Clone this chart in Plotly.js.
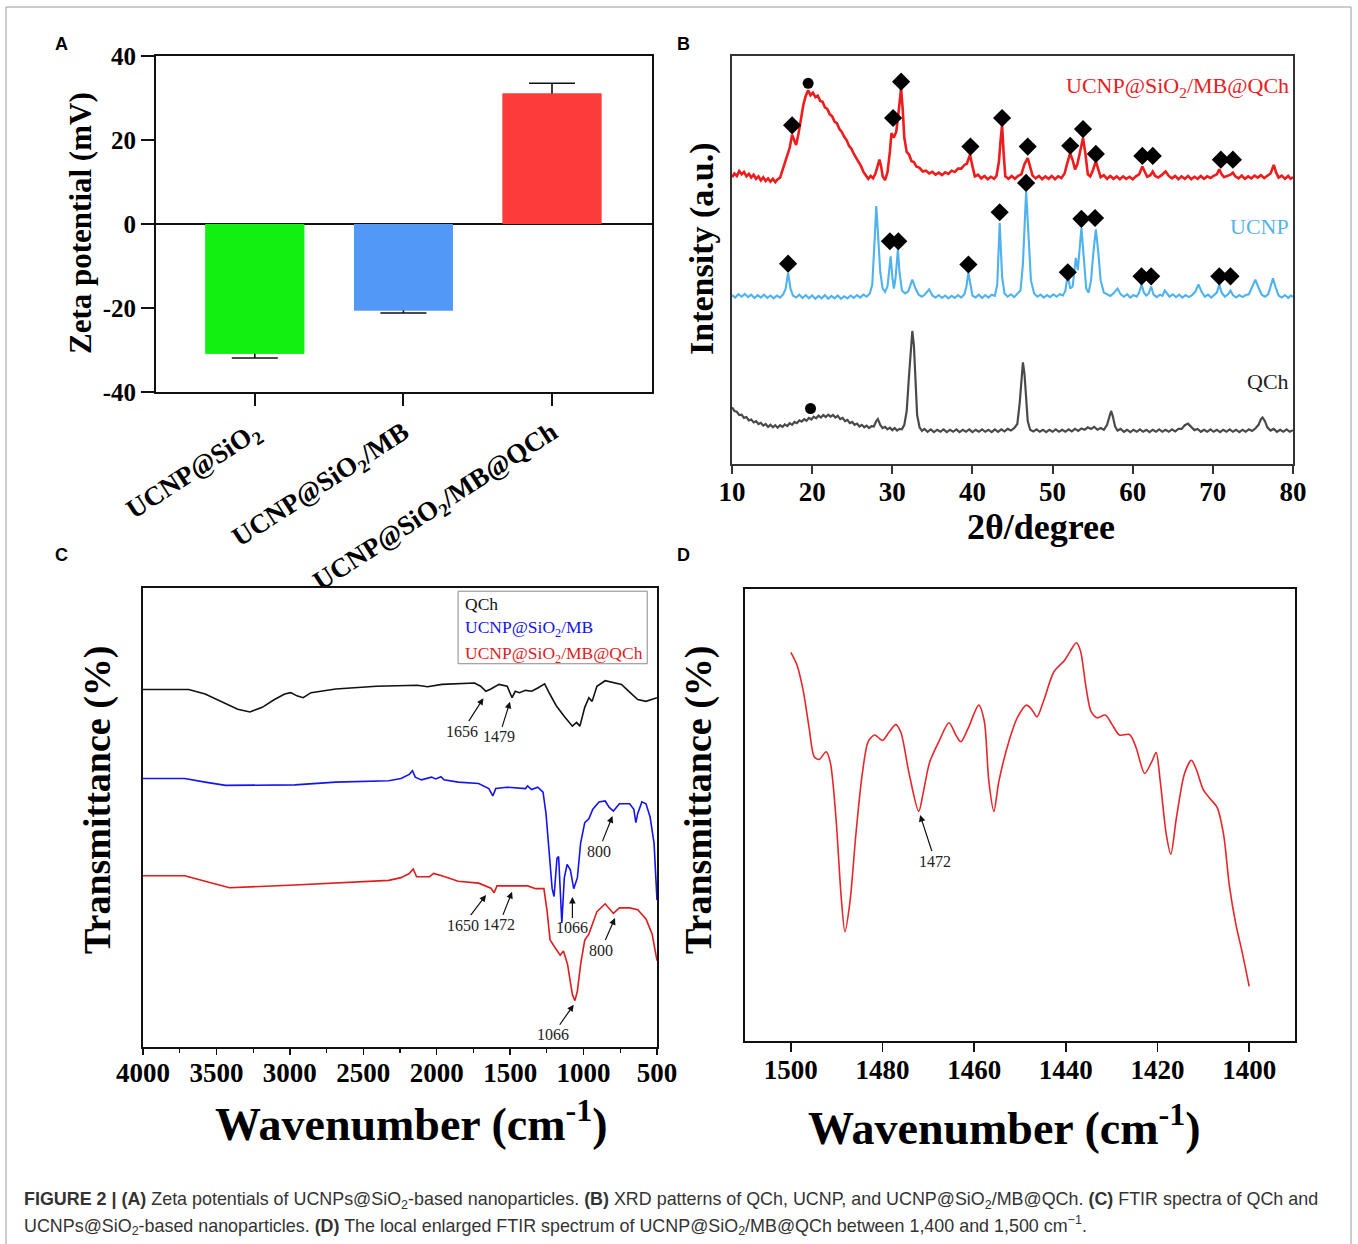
<!DOCTYPE html>
<html><head><meta charset="utf-8">
<script src="https://cdn.plot.ly/plotly-3.0.1.min.js"></script>
<style>html,body{margin:0;padding:0;background:#fff;} #chart{width:1358px;height:1244px;}</style>
</head><body><div id="chart"></div>
<script>
// ---------------- DATA ----------------
// (A) Zeta potential
const zetaCategories = ['UCNP@SiO<sub>2</sub>', 'UCNP@SiO<sub>2</sub>/MB', 'UCNP@SiO<sub>2</sub>/MB@QCh'];
const zetaValues = [-30.9, -20.6, 31.1];
const zetaErrors = [1.0, 0.6, 2.4];
const zetaTickVals = [-40, -20, 0, 20, 40];
const zetaTickText = ['-40', '-20', '0', '20', '40'];

// (B) XRD patterns [2theta, intensity a.u.]
const xrdComposite = [[10.0,70.3],[10.3,71.2],[10.6,70.6],[10.9,71.8],[11.2,71.0],[11.5,71.6],[11.8,70.5],[12.1,71.1],[12.4,70.2],[12.7,70.9],[13.0,69.9],[13.3,70.5],[13.6,69.5],[13.9,70.3],[14.2,69.4],[14.5,70.0],[14.8,69.2],[15.1,69.9],[15.4,69.1],[15.7,69.8],[16.0,70.2],[16.3,72.0],[16.6,74.2],[16.9,76.0],[17.2,77.5],[17.5,80.7],[17.8,79.0],[18.0,78.2],[18.3,81.0],[18.6,85.0],[18.9,88.0],[19.2,90.2],[19.5,91.6],[19.8,90.4],[20.1,91.0],[20.4,89.9],[20.7,90.3],[21.0,89.0],[21.3,88.8],[21.6,87.4],[21.9,87.0],[22.2,85.7],[22.5,85.2],[22.8,83.9],[23.1,83.5],[23.4,82.1],[23.7,81.4],[24.0,80.2],[24.3,79.4],[24.6,78.0],[24.9,77.3],[25.2,76.0],[25.5,75.1],[25.8,73.9],[26.1,73.0],[26.4,71.6],[26.7,70.6],[27.0,69.9],[27.3,70.6],[27.6,70.0],[27.9,71.2],[28.2,73.5],[28.4,74.6],[28.6,73.0],[28.8,70.5],[29.1,69.6],[29.4,71.5],[29.7,76.5],[29.9,81.1],[30.2,80.0],[30.5,81.5],[30.8,86.5],[31.1,92.1],[31.3,87.0],[31.5,80.0],[31.8,76.5],[32.1,75.8],[32.4,74.2],[32.7,74.0],[33.0,72.9],[33.4,72.6],[33.8,71.7],[34.2,71.9],[34.6,71.2],[35.0,71.6],[35.4,70.9],[35.8,71.4],[36.2,70.8],[36.6,71.5],[37.0,71.1],[37.4,71.9],[37.8,71.6],[38.2,72.4],[38.6,72.4],[39.0,73.3],[39.3,73.6],[39.7,75.8],[40.0,73.0],[40.3,70.5],[40.7,70.9],[41.1,70.0],[41.5,70.6],[41.9,69.8],[42.3,70.4],[42.7,69.9],[43.0,70.6],[43.3,74.0],[43.5,79.0],[43.7,83.1],[43.9,76.0],[44.1,70.5],[44.5,69.9],[44.9,70.6],[45.3,69.9],[45.7,70.6],[46.1,71.0],[46.5,73.5],[46.9,75.0],[47.2,73.0],[47.5,70.7],[47.9,70.0],[48.3,70.6],[48.7,69.8],[49.1,70.5],[49.5,69.9],[49.9,70.6],[50.3,69.8],[50.7,70.5],[51.1,70.1],[51.5,71.2],[51.8,73.5],[52.2,76.2],[52.5,74.5],[52.8,72.2],[53.1,73.5],[53.4,76.5],[53.8,79.9],[54.1,76.0],[54.4,71.0],[54.7,70.5],[55.0,71.8],[55.4,74.2],[55.7,72.0],[56.0,70.3],[56.4,70.8],[56.8,69.9],[57.2,70.6],[57.6,69.9],[58.0,70.5],[58.4,69.8],[58.8,70.5],[59.2,69.9],[59.6,70.4],[60.0,69.8],[60.4,70.5],[60.8,71.0],[61.2,72.9],[61.5,71.5],[61.8,70.4],[62.2,70.8],[62.5,71.7],[62.8,70.6],[63.2,70.2],[63.6,70.8],[64.1,71.7],[64.5,70.6],[64.9,70.0],[65.3,70.6],[65.7,69.8],[66.1,70.5],[66.5,69.9],[66.9,70.6],[67.3,69.8],[67.7,70.4],[68.1,69.9],[68.5,70.6],[68.9,69.9],[69.3,70.5],[69.7,70.1],[70.1,70.6],[70.5,71.0],[70.8,72.2],[71.1,71.0],[71.4,70.3],[71.8,70.6],[72.2,70.9],[72.5,71.4],[72.8,70.5],[73.2,70.0],[73.6,70.7],[74.0,69.9],[74.4,70.5],[74.8,70.0],[75.2,70.7],[75.6,70.2],[76.0,70.8],[76.4,70.1],[76.8,70.6],[77.2,71.2],[77.6,73.3],[77.9,71.4],[78.2,70.2],[78.6,70.7],[79.0,69.9],[79.4,70.6],[79.7,69.9],[80.0,70.3]];
const xrdUCNP = [[10.0,41.4],[10.4,40.8],[10.8,41.6],[11.2,41.0],[11.6,41.7],[12.0,40.9],[12.4,41.5],[12.8,40.7],[13.2,41.4],[13.6,40.8],[14.0,41.5],[14.4,40.7],[14.8,41.3],[15.2,40.6],[15.6,41.3],[16.0,40.8],[16.4,41.6],[16.7,43.0],[17.0,46.9],[17.3,43.0],[17.6,41.3],[18.0,40.8],[18.4,41.5],[18.8,40.7],[19.2,41.4],[19.6,40.6],[20.0,41.3],[20.4,40.5],[20.8,41.2],[21.2,40.6],[21.6,41.4],[22.0,40.5],[22.4,41.2],[22.8,40.6],[23.2,41.3],[23.6,40.5],[24.0,41.1],[24.4,40.6],[24.8,41.3],[25.2,40.7],[25.6,41.4],[26.0,40.8],[26.4,41.5],[26.8,41.0],[27.2,41.8],[27.5,44.0],[27.8,55.0],[28.0,63.2],[28.2,57.0],[28.5,47.0],[28.8,43.0],[29.1,42.2],[29.4,43.5],[29.8,50.9],[30.0,46.0],[30.2,43.0],[30.4,45.5],[30.7,52.6],[30.9,47.0],[31.2,42.5],[31.6,41.8],[32.0,42.3],[32.5,45.2],[32.9,43.0],[33.3,41.5],[33.7,41.0],[34.1,41.6],[34.6,42.8],[35.0,41.3],[35.4,40.8],[35.8,41.4],[36.2,40.7],[36.6,41.3],[37.0,40.6],[37.4,41.2],[37.8,40.7],[38.2,41.4],[38.6,40.8],[39.0,41.6],[39.25,43.5],[39.5,46.9],[39.75,43.5],[40.0,41.3],[40.4,40.8],[40.8,41.5],[41.2,40.7],[41.6,41.4],[42.0,40.8],[42.4,41.5],[42.8,41.2],[43.1,44.0],[43.4,59.1],[43.7,46.0],[44.0,41.8],[44.4,41.0],[44.8,41.6],[45.2,40.9],[45.6,41.7],[46.0,42.5],[46.3,49.0],[46.7,66.8],[47.0,56.0],[47.3,45.0],[47.7,41.8],[48.1,41.0],[48.5,41.5],[48.9,40.8],[49.3,41.4],[49.7,40.9],[50.1,41.6],[50.5,41.0],[50.9,41.6],[51.3,41.3],[51.6,42.5],[51.9,46.5],[52.2,43.0],[52.5,43.5],[52.9,50.5],[53.15,47.5],[53.6,57.9],[53.9,50.0],[54.2,43.0],[54.5,42.0],[54.8,45.0],[55.1,52.0],[55.4,57.5],[55.7,52.0],[56.0,45.0],[56.4,42.0],[56.8,41.5],[57.2,41.2],[57.6,41.8],[58.1,43.0],[58.5,41.6],[58.9,41.0],[59.3,41.6],[59.7,40.8],[60.1,41.4],[60.5,41.0],[60.8,42.0],[61.1,44.0],[61.4,42.0],[61.7,41.3],[62.0,41.8],[62.3,43.5],[62.6,41.5],[63.0,40.9],[63.4,41.5],[63.7,41.2],[64.0,42.5],[64.3,41.6],[64.6,41.0],[65.0,41.6],[65.4,40.9],[65.8,41.5],[66.2,40.8],[66.6,41.4],[67.0,40.9],[67.4,41.4],[67.8,42.2],[68.2,44.0],[68.6,42.2],[69.0,41.0],[69.4,41.5],[69.8,40.8],[70.2,41.4],[70.5,42.0],[70.8,44.0],[71.1,42.0],[71.5,41.0],[71.9,41.6],[72.2,42.5],[72.5,41.4],[72.9,40.8],[73.3,41.4],[73.7,40.9],[74.1,41.4],[74.5,41.6],[74.9,43.2],[75.3,45.2],[75.7,43.2],[76.1,41.5],[76.5,41.0],[76.9,41.6],[77.2,43.5],[77.5,45.5],[77.8,43.5],[78.2,41.3],[78.6,40.8],[79.0,41.4],[79.4,40.7],[79.7,41.3],[80.0,41.0]];
const xrdQCh = [[10.0,13.9],[10.3,13.0],[10.6,12.8],[10.9,12.0],[11.2,12.1],[11.5,11.3],[11.8,11.5],[12.1,10.7],[12.4,10.9],[12.7,10.2],[13.0,10.5],[13.3,9.8],[13.6,10.1],[13.9,9.4],[14.2,9.8],[14.5,9.1],[14.8,9.6],[15.1,9.0],[15.4,9.5],[15.7,8.9],[16.0,9.5],[16.3,9.1],[16.6,9.7],[16.9,9.3],[17.2,10.0],[17.5,9.6],[17.8,10.3],[18.1,10.0],[18.4,10.7],[18.7,10.4],[19.0,11.0],[19.3,10.6],[19.6,11.3],[19.9,10.9],[20.2,11.6],[20.5,11.2],[20.8,11.9],[21.1,11.4],[21.4,12.0],[21.7,11.5],[22.0,12.1],[22.3,11.6],[22.6,12.0],[22.9,11.4],[23.2,11.8],[23.5,11.0],[23.8,11.3],[24.1,10.5],[24.4,10.8],[24.7,10.0],[25.0,10.3],[25.3,9.6],[25.6,9.9],[25.9,9.2],[26.2,9.6],[26.5,9.0],[26.8,9.4],[27.1,8.8],[27.4,9.3],[27.7,9.2],[28.0,10.5],[28.2,11.0],[28.5,9.6],[28.8,8.8],[29.1,9.1],[29.4,8.5],[29.7,8.9],[30.0,8.3],[30.3,8.8],[30.6,8.2],[30.9,8.6],[31.2,8.5],[31.5,9.6],[31.8,13.0],[32.1,22.0],[32.35,30.0],[32.5,32.6],[32.7,29.0],[32.9,20.0],[33.1,12.0],[33.4,9.0],[33.7,8.1],[34.0,8.6],[34.4,7.9],[34.8,8.5],[35.2,7.8],[35.6,8.4],[36.0,7.9],[36.4,8.5],[36.8,7.8],[37.2,8.4],[37.6,7.9],[38.0,8.5],[38.4,7.8],[38.8,8.4],[39.2,7.9],[39.6,8.5],[40.0,7.8],[40.4,8.4],[40.8,7.9],[41.2,8.5],[41.6,7.9],[42.0,8.4],[42.4,7.8],[42.8,8.5],[43.2,7.9],[43.6,8.5],[44.0,8.0],[44.4,8.6],[44.8,8.2],[45.2,8.8],[45.6,9.8],[45.9,15.0],[46.1,21.0],[46.3,24.9],[46.5,22.0],[46.7,16.0],[46.9,10.5],[47.2,8.4],[47.6,8.0],[48.0,8.5],[48.4,7.9],[48.8,8.4],[49.2,7.8],[49.6,8.4],[50.0,7.9],[50.4,8.5],[50.8,7.9],[51.2,8.4],[51.6,7.9],[52.0,8.5],[52.4,8.0],[52.8,8.6],[53.2,8.1],[53.6,8.7],[54.0,8.4],[54.4,9.0],[54.8,8.6],[55.2,9.1],[55.6,8.4],[56.0,8.8],[56.4,8.4],[56.8,9.6],[57.1,11.8],[57.3,13.0],[57.5,11.8],[57.8,9.2],[58.1,8.2],[58.5,8.6],[58.9,7.9],[59.3,8.4],[59.7,7.8],[60.1,8.4],[60.5,7.9],[60.9,8.5],[61.3,7.9],[61.7,8.4],[62.1,7.8],[62.5,8.4],[62.9,7.9],[63.3,8.5],[63.7,7.9],[64.1,8.4],[64.5,7.9],[64.9,8.5],[65.3,8.0],[65.7,8.6],[66.1,8.6],[66.5,9.5],[66.9,9.9],[67.3,9.2],[67.7,8.3],[68.1,8.6],[68.5,7.9],[68.9,8.4],[69.3,7.9],[69.7,8.5],[70.1,7.9],[70.5,8.4],[70.9,7.8],[71.3,8.4],[71.7,7.9],[72.1,8.5],[72.5,7.9],[72.9,8.4],[73.3,7.8],[73.7,8.4],[74.1,7.9],[74.5,8.5],[74.9,8.1],[75.3,8.7],[75.7,9.6],[76.0,11.0],[76.2,11.4],[76.5,10.5],[76.8,9.0],[77.2,8.2],[77.6,8.6],[78.0,7.9],[78.4,8.4],[78.8,7.9],[79.2,8.5],[79.6,7.9],[80.0,8.3]];
const xrdDiamonds = [[17.5,83.0],[30.1,84.8],[31.1,93.7],[39.75,77.8],[43.7,84.8],[46.9,77.8],[52.2,78.0],[53.8,82.1],[55.4,76.0],[61.2,75.5],[62.5,75.5],[71.0,74.6],[72.5,74.6],
  [17.0,49.1],[29.7,54.6],[30.75,54.6],[39.5,48.9],[43.4,61.7],[46.7,68.9],[51.9,47.0],[53.6,60.1],[55.3,60.3],[61.1,46.0],[62.3,46.0],[70.8,46.0],[72.2,46.0]];
const xrdCircles = [[19.5,93.3],[19.8,13.6]];
const xrdLabels = ['UCNP@SiO<sub>2</sub>/MB@QCh', 'UCNP', 'QCh'];

// (C) FTIR spectra [wavenumber, transmittance a.u.]
const ftirQCh = [[4000,77.9],[3689,77.9],[3577,76.9],[3466,75.3],[3355,73.6],[3272,73.0],[3188,74.0],[3105,75.7],[3035,76.9],[2994,77.2],[2952,76.5],[2910,76.1],[2855,77.2],[2688,78.0],[2410,78.6],[2132,78.8],[2062,78.5],[1965,79.0],[1743,79.3],[1701,78.6],[1665,77.5],[1631,78.0],[1576,79.0],[1520,78.6],[1487,76.1],[1465,77.5],[1437,77.2],[1395,77.7],[1353,77.5],[1312,78.2],[1265,79.1],[1237,77.3],[1187,74.4],[1131,72.0],[1076,69.9],[1048,70.7],[1025,69.9],[992,74.0],[964,76.1],[942,75.3],[909,78.6],[853,79.8],[797,79.4],[742,79.0],[686,77.3],[631,75.7],[575,75.3],[533,75.7],[500,76.1]];
const ftirMB = [[4000,58.5],[3716,58.5],[3577,57.7],[3438,57.0],[2966,57.1],[2688,57.7],[2326,58.0],[2243,58.5],[2187,59.4],[2165,60.2],[2146,58.8],[2104,58.2],[2035,58.8],[2007,58.4],[1971,58.9],[1951,58.2],[1854,57.7],[1715,57.4],[1645,56.3],[1618,54.7],[1598,56.3],[1520,56.6],[1395,56.3],[1381,56.9],[1354,56.1],[1312,56.6],[1276,55.5],[1256,50.9],[1237,43.5],[1214,34.5],[1201,32.8],[1181,41.1],[1170,41.5],[1159,35.3],[1148,27.0],[1131,36.9],[1112,39.8],[1090,38.6],[1067,34.5],[1042,36.9],[1020,44.4],[992,48.9],[964,49.7],[937,51.8],[895,53.4],[853,53.6],[825,52.2],[797,51.4],[756,53.0],[686,53.0],[658,51.8],[644,48.9],[631,50.9],[603,53.4],[575,53.0],[547,50.1],[520,44.4],[500,32.0]];
const ftirMBQCh = [[4000,37.3],[3716,37.3],[3577,36.1],[3411,34.7],[2966,35.3],[2688,35.7],[2326,36.3],[2243,36.9],[2187,37.8],[2160,38.8],[2137,37.1],[2048,37.1],[2021,37.8],[1965,37.3],[1854,36.1],[1715,35.7],[1631,34.6],[1609,33.6],[1590,35.1],[1492,35.1],[1381,35.1],[1326,34.5],[1270,34.5],[1248,29.5],[1228,23.3],[1187,21.3],[1159,20.0],[1137,20.9],[1109,18.0],[1076,11.4],[1059,10.1],[1042,12.2],[1020,18.0],[992,23.3],[964,24.6],[909,29.5],[853,31.2],[797,29.1],[756,30.3],[686,30.3],[631,29.9],[575,27.9],[533,24.6],[500,18.8]];
const ftirNames = ['QCh', 'UCNP@SiO<sub>2</sub>/MB', 'UCNP@SiO<sub>2</sub>/MB@QCh'];
// peak labels: [wavenumber of arrow head, level, text, textDx, textDy]
const ftirPeakLabels = [[1682,76.0,'1656',-21,33],[1501,75.2,'1479',-11,35],[803,50.3,'800',-14,35],[1076,32.7,'1066',0,31],[1664,33.1,'1650',-23,30],[1487,33.8,'1472',-13,33],[786,28.1,'800',-14,32],[1067,9.2,'1066',-21,30]];

// (D) local FTIR spectrum 1400-1500
const zoomWN = [1500,1498.7,1497.3,1496,1494.9,1493.8,1492.3,1491.4,1490.2,1489,1488.2,1487.1,1485.8,1484.4,1483.1,1481.7,1480,1478.6,1477.1,1476,1474.2,1472.1,1471.1,1469.7,1467.5,1465.5,1463.9,1462.9,1461.3,1459,1457.8,1456.8,1455.7,1454.6,1452.3,1450.5,1448.6,1447.4,1446.3,1444.8,1442.6,1440.3,1439,1437.7,1436.8,1435.6,1434.5,1433.2,1431.4,1429.9,1428.3,1426.1,1424.7,1422.8,1421.3,1420.3,1419.4,1418.1,1417.1,1415.9,1414.1,1412.6,1411.5,1410.1,1408.7,1407,1405.6,1404.3,1402.9,1401.6,1400];
const zoomT = [86,83.3,77.5,69.2,62.9,62.3,64,61.7,50,31.7,24.2,30.8,45.8,59.2,66.3,67.7,66.5,68.3,70,68.3,59.2,50.8,55,61.7,66.7,70.4,67.5,66.2,69.2,74.3,70.8,57.5,50.8,57.5,66.7,71.7,74.3,73.3,71.7,75.4,81.7,84.2,86.3,88.1,86.3,78.3,72.9,71.5,72.1,70,67.7,67.8,65,59.2,61.7,63.8,57.5,45.8,41.3,49.2,59.2,62.1,60,55.8,53.8,51.7,45.8,34.2,25.8,20,12.1];
const zoomTicks = [1500, 1480, 1460, 1440, 1420, 1400];
const zoomPeak = [1471.8, 50.0, '1472'];

// ---------------- STYLE / LAYOUT ----------------
const W = 1358, H = 1244;
const fx = p => p / W, fy = p => 1 - p / H;
const SERIF = 'Liberation Serif, Times New Roman, serif';
const SANS = 'Liberation Sans, Arial, sans-serif';
const xs = a => a.map(d => d[0]), ys = a => a.map(d => d[1]);

const idx = zetaCategories.map((_, i) => i);
const barColors = ['#12f012', '#5299f7', '#fd3b3b'];
const data = [
  {type:'bar', x: idx, y: zetaValues, width: 0.665, marker:{color: barColors},
   error_y:{type:'data', array: zetaErrors, visible:true, color:'#111', thickness:1.6, width:23},
   xaxis:'x', yaxis:'y', hoverinfo:'skip'},
  {type:'bar', x: idx, y: zetaValues, width: 0.665, marker:{color: barColors}, xaxis:'x', yaxis:'y', hoverinfo:'skip'},

  {type:'scatter', mode:'lines', x: xs(xrdQCh), y: ys(xrdQCh), line:{color:'#4a4a4a', width:2.2}, xaxis:'x2', yaxis:'y2'},
  {type:'scatter', mode:'lines', x: xs(xrdUCNP), y: ys(xrdUCNP), line:{color:'#4db2ef', width:2.1}, xaxis:'x2', yaxis:'y2'},
  {type:'scatter', mode:'lines', x: xs(xrdComposite), y: ys(xrdComposite), line:{color:'#ee1c1c', width:2.6}, xaxis:'x2', yaxis:'y2'},
  {type:'scatter', mode:'markers', x: xs(xrdDiamonds), y: ys(xrdDiamonds), marker:{symbol:'diamond', size:14, color:'#000'}, xaxis:'x2', yaxis:'y2'},
  {type:'scatter', mode:'markers', x: xs(xrdCircles), y: ys(xrdCircles), marker:{symbol:'circle', size:11, color:'#000'}, xaxis:'x2', yaxis:'y2'},

  {type:'scatter', mode:'lines', name: ftirNames[0], x: xs(ftirQCh), y: ys(ftirQCh), line:{color:'#111', width:1.6}, xaxis:'x3', yaxis:'y3'},
  {type:'scatter', mode:'lines', name: ftirNames[1], x: xs(ftirMB), y: ys(ftirMB), line:{color:'#1414f0', width:1.6}, xaxis:'x3', yaxis:'y3'},
  {type:'scatter', mode:'lines', name: ftirNames[2], x: xs(ftirMBQCh), y: ys(ftirMBQCh), line:{color:'#e11b1b', width:1.6}, xaxis:'x3', yaxis:'y3'},

  {type:'scatter', mode:'lines', x: zoomWN, y: zoomT, line:{color:'#e8262a', width:1.6, shape:'spline', smoothing:0.8}, xaxis:'x4', yaxis:'y4'}
];

const tickBold = (size) => ({family: SERIF, size: size, color:'#000', weight:'bold'});
const frame = (color, w) => ({showline:true, mirror:true, linecolor:color, linewidth:w, showgrid:false, zeroline:false});

const layout = {
  width: W, height: H, margin:{l:0,r:0,t:0,b:0}, paper_bgcolor:'#fff', plot_bgcolor:'#fff',
  showlegend:false, barmode:'overlay',
  xaxis: Object.assign(frame('#111', 2), {domain:[fx(156), fx(652)], range:[-0.665, 2.673], tickvals: idx, ticktext: zetaCategories,
    tickangle:-33, ticks:'outside', ticklen:12, tickwidth:2, tickcolor:'#111', tickfont: tickBold(27), anchor:'y'}),
  yaxis: Object.assign(frame('#111', 2), {domain:[fy(392), fy(56)], range:[-40, 40], tickvals: zetaTickVals, ticktext: zetaTickText,
    ticks:'outside', ticklen:13, tickwidth:2, tickcolor:'#111', tickfont: tickBold(25), zeroline:true, zerolinecolor:'#111', zerolinewidth:2, anchor:'x'}),

  xaxis2: Object.assign(frame('#333', 2), {domain:[fx(732), fx(1293)], range:[10, 80], dtick:10, tick0:10, ticks:'outside', ticklen:8, tickwidth:2, tickcolor:'#333', tickfont: tickBold(27), ticklabelstandoff:-5, anchor:'y2'}),
  yaxis2: Object.assign(frame('#333', 2), {domain:[fy(464), fy(56)], range:[0, 100], showticklabels:false, ticks:'', anchor:'x2'}),

  xaxis3: Object.assign(frame('#111', 1.6), {domain:[fx(143), fx(657)], range:[4000, 500], dtick:500, tick0:0, ticks:'outside', ticklen:6, tickwidth:1.5, tickcolor:'#111', tickfont: tickBold(27), ticklabelstandoff:-5, anchor:'y3',
    minor:{dtick:250, ticks:'outside', ticklen:4, tickwidth:1.2, tickcolor:'#111', showgrid:false}}),
  yaxis3: Object.assign(frame('#111', 1.6), {domain:[fy(1047), fy(588)], range:[0, 100], showticklabels:false, ticks:'', anchor:'x3'}),

  xaxis4: Object.assign(frame('#111', 1.6), {domain:[fx(745), fx(1295)], range:[1510, 1390], tickvals: zoomTicks, ticks:'outside', ticklen:9, tickwidth:1.5, tickcolor:'#111', tickfont: tickBold(27), ticklabelstandoff:-5, anchor:'y4'}),
  yaxis4: Object.assign(frame('#111', 1.6), {domain:[fy(1041), fy(589)], range:[0, 100], showticklabels:false, ticks:'', anchor:'x4'}),

  shapes: [
    {type:'rect', xref:'paper', yref:'paper', x0: fx(6), x1: fx(1351), y0: fy(1260), y1: fy(7), line:{color:'#9a9a9a', width:1}},
    {type:'rect', xref:'x3 domain', yref:'y3 domain', x0: 0.613, x1: 0.981, y0: 0.835, y1: 0.993, line:{color:'#8a8a8a', width:1}}
  ],
  annotations: []
};

const A = layout.annotations;
const paperText = (x, y, text, font, extra) => A.push(Object.assign({xref:'paper', yref:'paper', x: fx(x), y: fy(y), text: text, showarrow:false, font: font, xanchor:'center', yanchor:'middle'}, extra || {}));

// panel letters
[['A',61,44],['B',683,44],['C',61,555],['D',683,555]].forEach(l => paperText(l[1], l[2], '<b>' + l[0] + '</b>', {family:SANS, size:18, color:'#000'}));

// axis titles
paperText(80, 223, '<b>Zeta potential (mV)</b>', {family:SERIF, size:31, color:'#000'}, {textangle:-90});
paperText(702, 249, '<b>Intensity (a.u.)</b>', {family:SERIF, size:34, color:'#000'}, {textangle:-90});
paperText(1041, 527, '<b>2θ/degree</b>', {family:SERIF, size:36, color:'#000'});
paperText(97, 800, '<b>Transmittance (%)</b>', {family:SERIF, size:38, color:'#000'}, {textangle:-90});
paperText(412, 1121, '<b>Wavenumber (cm<sup>-1</sup>)</b>', {family:SERIF, size:46, color:'#000'});
paperText(698, 799, '<b>Transmittance (%)</b>', {family:SERIF, size:38, color:'#000'}, {textangle:-90});
paperText(1004, 1125, '<b>Wavenumber (cm<sup>-1</sup>)</b>', {family:SERIF, size:46, color:'#000'});

// XRD curve labels
const xrdLabelPos = [[92.4, '#e8201e'], [58.3, '#55b3ea'], [20.1, '#222']];
xrdLabels.forEach((t, i) => A.push({xref:'x2', yref:'y2', x: 79.7, y: xrdLabelPos[i][0], text: t, showarrow:false, xanchor:'right', yanchor:'middle',
  font:{family:SERIF, size:22, color: xrdLabelPos[i][1]}}));

// FTIR legend
const legendColors = ['#111', '#1414f0', '#e11b1b'];
const legendY = [0.965, 0.911, 0.856];
ftirNames.forEach((t, i) => A.push({xref:'x3 domain', yref:'y3 domain', x: 0.623, y: legendY[i], text: t, showarrow:false, xanchor:'left', yanchor:'middle',
  font:{family:SERIF, size:17.5, color: legendColors[i]}}));

// FTIR peak labels
ftirPeakLabels.forEach(p => A.push({xref:'x3', yref:'y3', x: p[0], y: p[1], text: p[2], showarrow:true, arrowhead:2, arrowsize:1.1, arrowwidth:1.2, arrowcolor:'#111',
  ax: p[3], ay: p[4], standoff:0, font:{family:SERIF, size:16, color:'#222'}}));
A.push({xref:'x4', yref:'y4', x: zoomPeak[0], y: zoomPeak[1], text: zoomPeak[2], showarrow:true, arrowhead:2, arrowsize:1.1, arrowwidth:1.2, arrowcolor:'#111',
  ax: 15, ay: 46, standoff:0, font:{family:SERIF, size:16, color:'#222'}});

// caption
const capFont = {family: SANS, size:17.9, color:'#333'};
paperText(22, 1200, '<b>FIGURE 2 | (A)</b> Zeta potentials of UCNPs@SiO<sub>2</sub>-based nanoparticles. <b>(B)</b> XRD patterns of QCh, UCNP, and UCNP@SiO<sub>2</sub>/MB@QCh. <b>(C)</b> FTIR spectra of QCh and', capFont, {xanchor:'left'});
paperText(22, 1225, 'UCNPs@SiO<sub>2</sub>-based nanoparticles. <b>(D)</b> The local enlarged FTIR spectrum of UCNP@SiO<sub>2</sub>/MB@QCh between 1,400 and 1,500 cm<sup>−1</sup>.', capFont, {xanchor:'left'});

Plotly.newPlot('chart', data, layout, {staticPlot:true, displayModeBar:false});
</script>
</body></html>
